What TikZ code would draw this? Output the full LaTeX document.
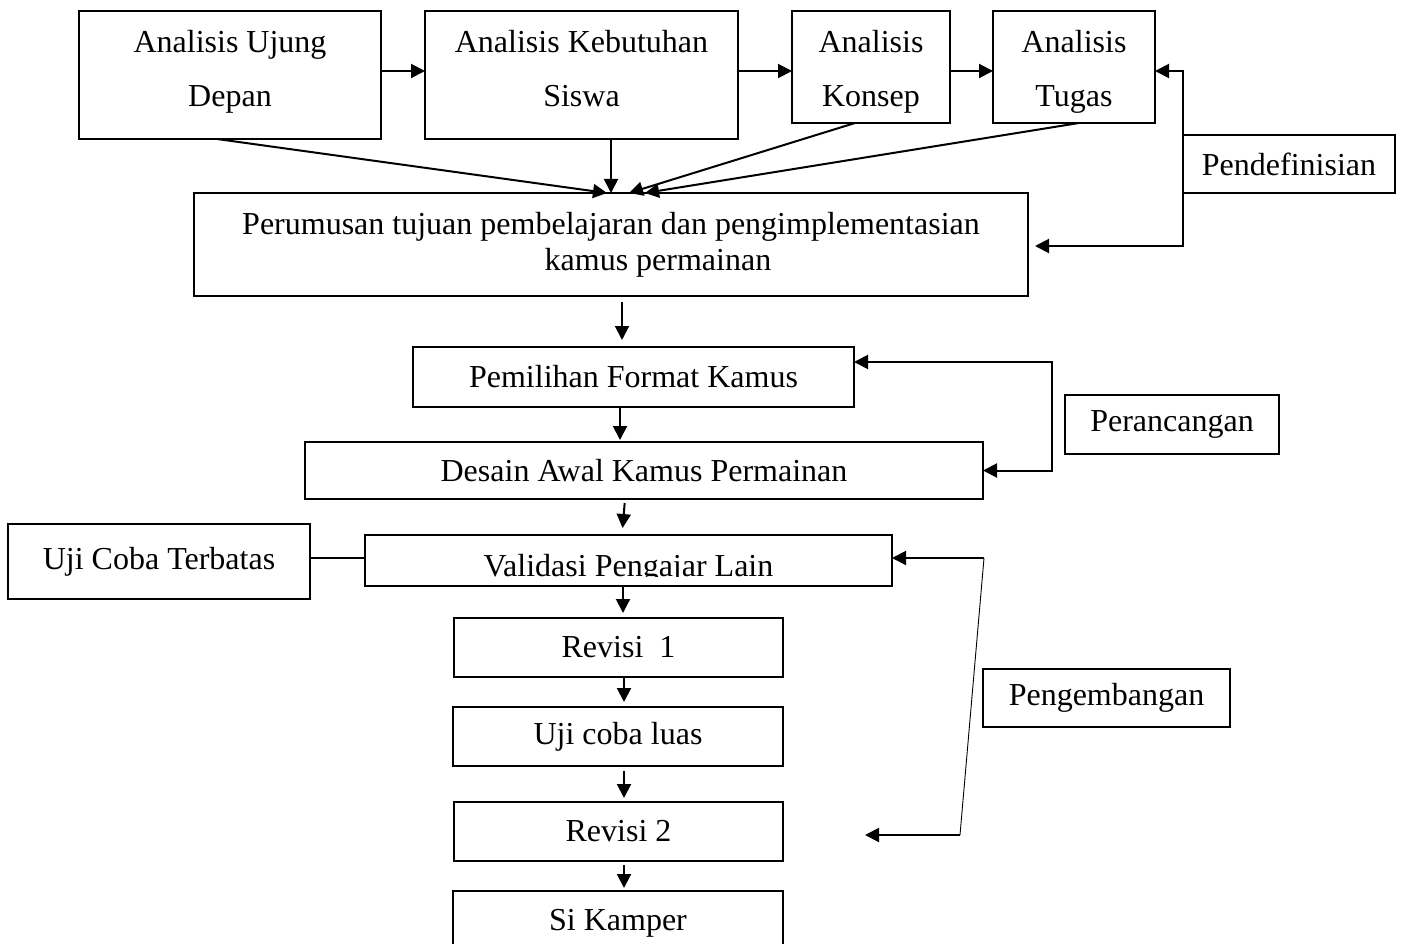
\documentclass[tikz,border=0pt]{standalone}
\usepackage{fontspec}
\setmainfont{Liberation Serif}
\usetikzlibrary{arrows.meta}
\tikzset{
  box/.style={draw, line width=1.6pt, inner sep=0pt, outer sep=0pt, align=center},
  arr/.style={line width=2pt, -{Triangle[length=14pt,width=14pt]}},
  arrboth/.style={line width=2pt, {Triangle[length=14pt,width=14pt]}-{Triangle[length=14pt,width=14pt]}},
  plain/.style={line width=2pt},
  thinline/.style={line width=0.9pt}
}
\begin{document}
\begin{tikzpicture}[x=1pt,y=-1pt,font=\fontsize{32}{38}\selectfont]
\useasboundingbox (0,0) rectangle (1402,944);
\fill[white] (0,0) rectangle (1402,944);
\clip (0,0) rectangle (1402,944);

% top row
\node[box, minimum width=302, minimum height=128] (A) at (230,75) {Analisis Ujung\\[16pt]Depan\rule[-13pt]{0pt}{0pt}};
\node[box, minimum width=313, minimum height=128] (B) at (581.5,75) {Analisis Kebutuhan\\[16pt]Siswa\rule[-13pt]{0pt}{0pt}};
\node[box, minimum width=158, minimum height=112] (C) at (871,67) {\rule{0pt}{31pt}Analisis\\[16pt]Konsep};
\node[box, minimum width=162, minimum height=112] (D) at (1074,67) {\rule{0pt}{31pt}Analisis\\[16pt]Tugas};
\node[box, minimum width=212, minimum height=58] (P1) at (1289,164) {Pendefinisian};

\node[box, minimum width=834, minimum height=103] (E) at (611,244.5)
  {Perumusan tujuan pembelajaran dan pengimplementasian\\[-2pt]\hspace*{94pt}kamus permainan};

\node[box, minimum width=441, minimum height=60] (F) at (633.5,377) {Pemilihan Format Kamus};
\node[box, minimum width=678, minimum height=57] (G) at (644,470.5) {Desain Awal Kamus Permainan};
\node[box, minimum width=214, minimum height=59] (P2) at (1172,424.5) {Perancangan};

\node[box, minimum width=527, minimum height=51,
  path picture={
    \clip (path picture bounding box.north west) rectangle ([yshift=10pt]path picture bounding box.south east);
    \node (Htext) at ([yshift=-8pt]path picture bounding box.center) {Validasi Pengajar Lain};
  }] (H) at (628.5,560.5) {};
\node[box, minimum width=302, minimum height=75] (U) at (159,561.5) {Uji Coba Terbatas};

\node[box, minimum width=329, minimum height=59] (I) at (618.5,647.5) {Revisi\ \ 1};
\node[box, minimum width=330, minimum height=59] (J) at (618,736.5) {Uji coba luas};
\node[box, minimum width=329, minimum height=59] (K) at (618.5,831.5) {Revisi 2};
\node[box, minimum width=330, minimum height=68] (L) at (618,925) {};
\node (Ltext) at (618,923) {Si Kamper};
\node[box, minimum width=247, minimum height=58] (P3) at (1106.5,698) {Pengembangan};

% top row arrows
\draw[arr] ([yshift=4pt]A.east) -- ([yshift=4pt]B.west);
\draw[arr] ([yshift=4pt]B.east) -- ([yshift=-4pt]C.west);
\draw[arr] ([yshift=-4pt]C.east) -- ([yshift=-4pt]D.west);

% converging arrows into E
\draw[arr] ([xshift=-13pt]A.south) -- ([xshift=-4pt]E.north);
\draw[arr] (B.south -| E.north) -- (E.north);
\draw[arr] ([xshift=-16pt]C.south) -- ([xshift=18pt]E.north);
\draw[arr] ([xshift=5pt]D.south) -- ([xshift=34pt]E.north);

% Pendefinisian feedback
\coordinate (pdTip) at ([shift={(7pt,-1.5pt)}]E.east);
\draw[arr] (P1.north west) |- ([yshift=-4pt]D.east);
\draw[arr] (P1.south west) |- (pdTip);

% central axis arrows
\coordinate (xa) at (622,0);
\coordinate (xb) at (620,0);
\coordinate (xc) at (625,0);
\coordinate (xd) at (623,0);
\coordinate (xe) at (624,0);
\draw[arr, shorten <=6pt, shorten >=7pt] (E.south -| xa) -- (F.north -| xa);
\draw[arr, shorten >=2pt] (F.south -| xb) -- (G.north -| xb);
\draw[arr, shorten <=4pt, shorten >=7pt] (G.south -| xc) -- (H.north -| xa);
\draw[arr, shorten >=5pt] (H.south -| xd) -- (I.north -| xd);
\draw[arr, shorten >=5pt] (I.south -| xe) -- (J.north -| xe);
\draw[arr, shorten <=5pt, shorten >=4pt] (J.south -| xe) -- (K.north -| xe);
\draw[arr, shorten <=4pt, shorten >=3pt] (K.south -| xe) -- (L.north -| xe);

% Perancangan feedback
\coordinate (pc) at (1052,416);
\draw[arrboth] ([yshift=15pt]F.east) -| (pc) |- (G.east);

% Uji Coba Terbatas link
\draw[plain] ([yshift=3.5pt]U.east) -- ([yshift=3.5pt]U.east -| H.west);

% Pengembangan feedback
\coordinate (pg1) at (984,558);
\coordinate (pg2) at (960,835);
\coordinate (pg3) at (865,835);
\draw[arr] (pg1) -- (pg1 -| H.east);
\draw[thinline] (pg1) -- (pg2);
\draw[arr] (pg2) -- (pg3);
\end{tikzpicture}
\end{document}
